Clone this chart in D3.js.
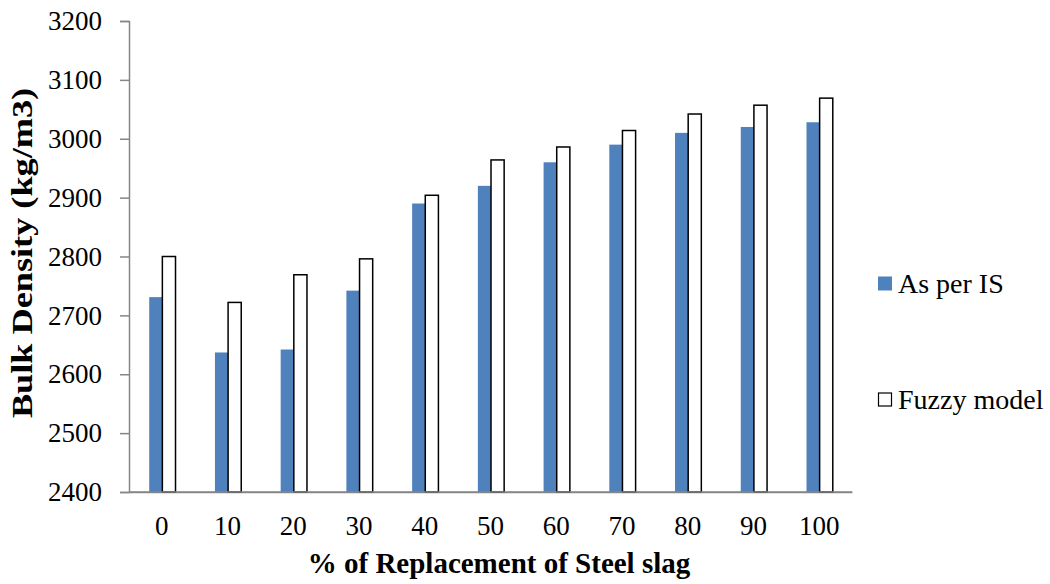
<!DOCTYPE html>
<html><head><meta charset="utf-8">
<script src="https://cdn.jsdelivr.net/npm/d3@7"></script>
<style>body{margin:0;background:#fff}svg{display:block}
svg text{font-family:"Liberation Serif","Times New Roman",Times,"DejaVu Serif",serif;}</style>
</head><body>
<svg id="c" width="1050" height="584"></svg>
<script>
const categories = ["0","10","20","30","40","50","60","70","80","90","100"];
const asPerIS = [2731, 2637, 2642, 2742, 2890, 2920, 2960, 2990, 3010, 3020, 3028];
const fuzzyModel = [2800, 2722, 2769, 2796, 2904, 2964, 2986, 3014, 3042, 3057, 3069];
const yTicks = [2400, 2500, 2600, 2700, 2800, 2900, 3000, 3100, 3200];
const seriesNames = ["As per IS", "Fuzzy model"];

const svg = d3.select("#c");
const L = 129, R = 852, T = 21, B = 492;
const x = d3.scaleBand().domain(categories).range([L, R]).paddingInner(0).paddingOuter(0);
const y = d3.scaleLinear().domain([2400, 3200]).range([B, T]);
const bw = x.bandwidth() / 5;

// y axis
const ya = svg.append("g").attr("transform", `translate(${L},0)`)
  .call(d3.axisLeft(y).tickValues(yTicks).tickSize(9).tickPadding(18).tickFormat(d3.format("d")));
ya.attr("font-family", null);
ya.selectAll("path,line").attr("stroke", "#868686").attr("stroke-width", 1.5);
ya.selectAll("text").attr("font-size", 27).attr("fill", "#000");

// x axis
const xa = svg.append("g").attr("transform", `translate(0,${B})`)
  .call(d3.axisBottom(x).tickSize(0).tickPadding(24));
xa.attr("font-family", null);
xa.select(".domain").attr("stroke", "#868686").attr("stroke-width", 1.5);
xa.selectAll("text").attr("font-size", 27).attr("fill", "#000");

// bars
const g = svg.append("g");
g.selectAll(".b1").data(categories).join("rect")
  .attr("x", (d) => x(d) + 1.5 * bw + 0.5)
  .attr("y", (d, i) => y(asPerIS[i]))
  .attr("width", bw)
  .attr("height", (d, i) => B - y(asPerIS[i]))
  .attr("fill", "#4F81BD");
g.selectAll(".b2").data(categories).join("rect")
  .attr("x", (d) => x(d) + 2.5 * bw + 0.5)
  .attr("y", (d, i) => y(fuzzyModel[i]))
  .attr("width", bw)
  .attr("height", (d, i) => B - y(fuzzyModel[i]))
  .attr("fill", "#fff").attr("stroke", "#000").attr("stroke-width", 1.5);

svg.append("line").attr("x1", L).attr("x2", R).attr("y1", B).attr("y2", B)
  .attr("stroke", "#868686").attr("stroke-width", 1.5);

// legend
const leg = svg.append("g");
const legY = [284, 400];
leg.append("rect").attr("x", 878).attr("y", legY[0] - 7.5).attr("width", 14).attr("height", 14).attr("fill", "#4F81BD");
leg.append("rect").attr("x", 878.5).attr("y", legY[1] - 7).attr("width", 13).attr("height", 13).attr("fill", "#fff").attr("stroke", "#000").attr("stroke-width", 1.2);
leg.selectAll("text").data(seriesNames).join("text")
  .attr("x", 898).attr("y", (d, i) => legY[i] + 9)
  .attr("font-size", 28).attr("fill", "#000").text(d => d);

// titles
svg.append("text").attr("x", 499).attr("y", 573).attr("text-anchor", "middle")
  .attr("font-size", 29).attr("font-weight", "bold").text("% of Replacement of Steel slag");
svg.append("text").attr("transform", "translate(32,253) rotate(-90) scale(1.25,1)").attr("text-anchor", "middle")
  .attr("font-size", 29).attr("font-weight", "bold").text("Bulk Density (kg/m3)");
</script>
</body></html>
